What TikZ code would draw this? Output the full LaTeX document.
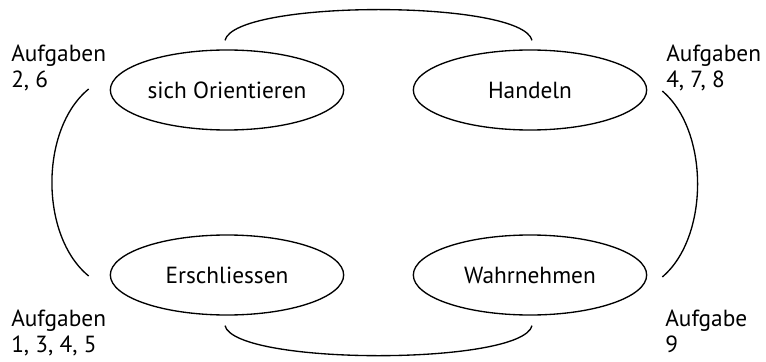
\documentclass[tikz,border=0pt]{standalone}
\usepackage{fontspec}
\setmainfont{PT Sans}
\usepackage{tikz}
\usetikzlibrary{shapes,positioning,calc}

\tikzset{
	feld/.style={ellipse,draw,line width=1pt,inner sep=0pt,minimum width=175pt,minimum height=60pt,font=\fontsize{17.5}{19.5}\selectfont},
	aufg/.style={anchor=base west,align=left,inner sep=0pt,font=\fontsize{17.5}{19.5}\selectfont},
	bogen/.style={line width=1pt}
}

\begin{document}
\begin{tikzpicture}[x=0.75pt,y=0.75pt]
	\useasboundingbox (0,0) rectangle (766,361);
	% die vier Felder
	\node[feld] (ori) at (227,271) {sich Orientieren};
	\node[feld] (hand) at (530,271) {Handeln};
	\node[feld] (ersch) at (227,86) {Erschliessen};
	\node[feld] (wahr) at (530,86) {Wahrnehmen};
	% Aufgaben (Anker = Grundlinie der letzten Zeile)
	\node[aufg] (a1) at (11,273) {Aufgaben\\2, 6};
	\node[aufg] (a2) at (666,273) {Aufgaben\\4, 7, 8};
	\node[aufg] (a3) at (11,9) {Aufgaben\\1, 3, 4, 5};
	\node[aufg] (a4) at (665,9) {Aufgabe\\9};
	% Endpunkte der Boegen
	\coordinate (o1) at ($(ori.north)+(-2,9)$);
	\coordinate (o2) at ($(hand.north)+(2,9)$);
	\coordinate (l1) at ($(ori.west)+(-21,1)$);
	\coordinate (l2) at ($(ersch.west)+(-21,-1)$);
	\coordinate (r1) at ($(hand.east)+(15,-1)$);
	\coordinate (r2) at ($(wahr.east)+(15,-2)$);
	\coordinate (u1) at ($(ersch.south)+(-2,-10)$);
	\coordinate (u2) at ($(wahr.south)+(2,-10)$);
	% Boegen
	\draw[bogen] (o1) .. controls +(10,41) and +(-10,41) .. (o2);
	\draw[bogen] (l1) .. controls +(-49,-40) and +(-49,40) .. (l2);
	\draw[bogen] (r1) .. controls +(47,-40) and +(47,40) .. (r2);
	\draw[bogen] (u1) .. controls +(10,-40) and +(-10,-40) .. (u2);
\end{tikzpicture}
\end{document}
